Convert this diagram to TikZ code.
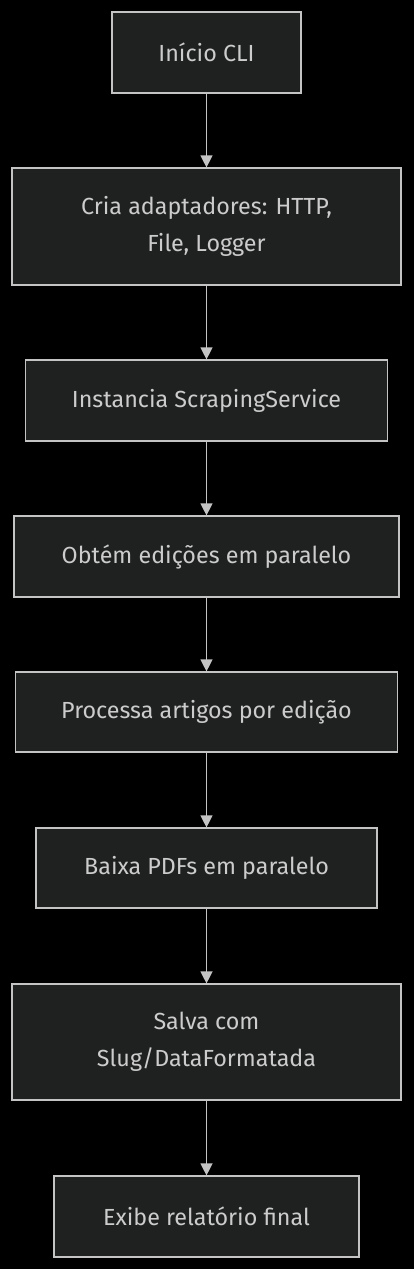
\documentclass[tikz,border=0pt]{standalone}
\usepackage{fontspec}
\setmainfont{Fira Sans}
\usetikzlibrary{arrows.meta}
\definecolor{bg}{HTML}{000000}
\definecolor{boxfill}{HTML}{1F2020}
\definecolor{boxline}{HTML}{C4C4C4}
\definecolor{txt}{HTML}{CCCCCC}
\definecolor{arr}{HTML}{C4C4C4}
\tikzset{
  flowbox/.style={draw=boxline, fill=boxfill, line width=1.2pt, text=txt, align=center,
    font=\fontsize{23.3}{37}\selectfont, inner sep=0pt, anchor=center},
  flowarrow/.style={draw=arr, line width=1.3pt, -{Triangle[width=12pt,length=12pt]}}
}
\begin{document}
\begin{tikzpicture}[x=1pt,y=-1pt]
\fill[bg] (0,0) rectangle (414,1269);
\useasboundingbox (0,0) rectangle (414,1269);
\node[flowbox, minimum width=189pt, minimum height=81pt] (n1) at (206.5,52.5) {Início CLI};
\node[flowbox, minimum width=389pt, minimum height=117pt] (n2) at (206.5,226.5) {Cria adaptadores: HTTP,\\File, Logger};
\node[flowbox, minimum width=362pt, minimum height=81pt] (n3) at (206.5,400.5) {Instancia ScrapingService};
\node[flowbox, minimum width=385pt, minimum height=81pt] (n4) at (206.5,556.5) {Obtém edições em paralelo};
\node[flowbox, minimum width=382pt, minimum height=80pt] (n5) at (206.5,712) {Processa artigos por edição};
\node[flowbox, minimum width=341pt, minimum height=80pt] (n6) at (206.5,868) {Baixa PDFs em paralelo};
\node[flowbox, minimum width=389pt, minimum height=116pt] (n7) at (206.5,1042) {Salva com\\Slug/DataFormatada};
\node[flowbox, minimum width=305pt, minimum height=81pt] (n8) at (206.5,1216.5) {Exibe relatório final};
\draw[flowarrow] (n1) -- (n2);
\draw[flowarrow] (n2) -- (n3);
\draw[flowarrow] (n3) -- (n4);
\draw[flowarrow] (n4) -- (n5);
\draw[flowarrow] (n5) -- (n6);
\draw[flowarrow] (n6) -- (n7);
\draw[flowarrow] (n7) -- (n8);
\end{tikzpicture}
\end{document}
